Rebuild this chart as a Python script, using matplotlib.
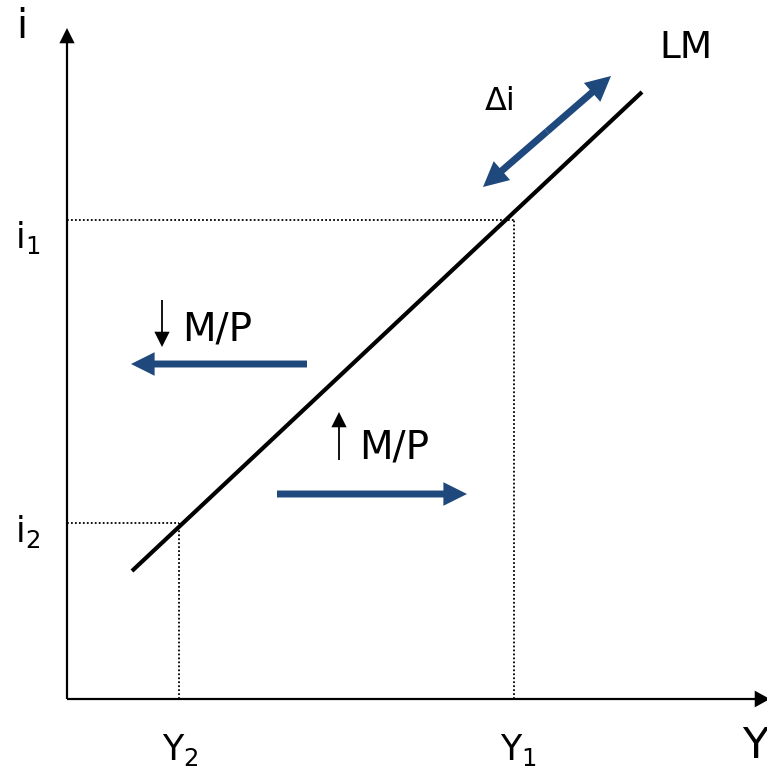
import matplotlib.pyplot as plt
from matplotlib.patches import FancyArrowPatch

plt.rcParams['font.family'] = ['DejaVu Sans']
plt.rcParams['mathtext.default'] = 'regular'

# diagram units: origin at the corner of the axes
lm_x = [65, 575]
lm_y = [128, 607]
Y1, i1 = 447, 479
Y2, i2 = 112, 176
x_end, y_end = 703, 671

di_start = (416, 512)
di_end = (544, 623)
left_arrow = [(240, 335), (64, 335)]
right_arrow = [(210, 205), (400, 205)]
down_arrow = [(95, 399), (95, 352)]
up_arrow = [(272, 239), (272, 287)]

blue = '#1F497D'

fig = plt.figure(figsize=(7.67, 7.75), dpi=100)
ax = fig.add_axes([0, 0, 1, 1])
ax.set_xlim(-67, 700)
ax.set_ylim(-76, 699)
ax.axis('off')


def arrow(p0, p1, color, tail, hw, hl):
    a = FancyArrowPatch(p0, p1, mutation_scale=1, shrinkA=0, shrinkB=0,
                        arrowstyle='simple,tail_width=%s,head_width=%s,head_length=%s' % (tail, hw, hl),
                        color=color, lw=0)
    ax.add_patch(a)


# axes
arrow((0, 0), (x_end, 0), 'black', 1.6, 12, 11)
arrow((0, 0), (0, y_end), 'black', 1.6, 11, 11)

# dotted guides
dot = dict(color='black', ls=(0, (1, 1.2)), lw=1.3)
ax.plot([0, Y1], [i1, i1], **dot)
ax.plot([Y1, Y1], [0, i1], **dot)
ax.plot([0, Y2], [i2, i2], **dot)
ax.plot([Y2, Y2], [0, i2], **dot)

# LM curve
ax.plot(lm_x, lm_y, color='black', lw=3, solid_capstyle='butt')

# blue arrows
mid = ((di_start[0] + di_end[0]) / 2, (di_start[1] + di_end[1]) / 2)
arrow(mid, di_end, blue, 5, 18, 18)
arrow(mid, di_start, blue, 5, 18, 18)
arrow(left_arrow[0], left_arrow[1], blue, 5, 17, 17)
arrow(right_arrow[0], right_arrow[1], blue, 5, 17, 17)

# small black arrows
arrow(down_arrow[0], down_arrow[1], 'black', 1.3, 11, 11)
arrow(up_arrow[0], up_arrow[1], 'black', 1.3, 11, 11)

# labels
ax.text(-45, 672, 'i', fontsize=29, ha='center', va='center')
ax.text(619, 651, 'LM', fontsize=27, ha='center', va='center')
ax.text(433, 598, 'Δi', fontsize=23, ha='center', va='center')
ax.text(115, 369, 'M/P', fontsize=28, ha='left', va='center')
ax.text(292, 251, 'M/P', fontsize=28, ha='left', va='center')
ax.text(-39, 462, '$i_1$', fontsize=25, ha='center', va='center')
ax.text(-39, 167, '$i_2$', fontsize=25, ha='center', va='center')
ax.text(Y2 + 1, -51, '$Y_2$', fontsize=25, ha='center', va='center')
ax.text(Y1 + 4, -51, '$Y_1$', fontsize=25, ha='center', va='center')
ax.text(675, -47, 'Y', fontsize=31, ha='left', va='center')

fig.savefig('out.png', dpi=100)
